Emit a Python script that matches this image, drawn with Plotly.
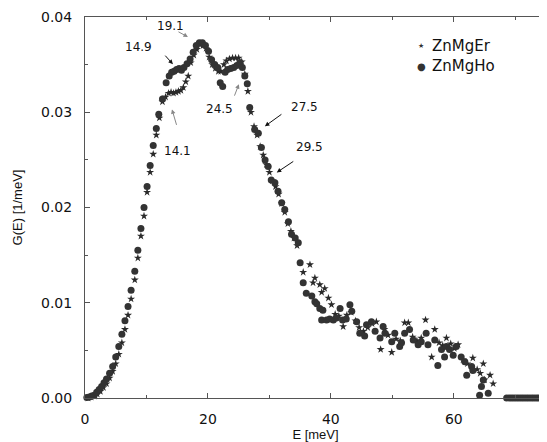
import plotly.graph_objects as go

# ---- data ----
E_ho = [0.3, 0.7, 1.1, 1.5, 1.9, 2.3, 2.7, 3.1, 3.5, 4.0, 4.5, 5.0, 5.5, 6.0, 6.5, 7.0, 7.5, 8.1, 8.6, 9.1,
        9.6, 10.1, 10.6, 11.1, 11.6, 12.0, 12.6, 13.2, 13.7, 14.1, 14.5, 14.9, 15.3, 15.7, 16.1, 16.6, 17.1,
        17.6, 18.1, 18.6, 19.1, 19.6, 20.1, 20.6, 21.1, 21.6, 22.0, 22.4, 22.8, 23.2, 23.7, 24.2, 24.7, 25.2,
        25.6, 26.0, 26.4, 26.8, 27.6, 28.2, 28.7, 29.3, 29.8, 30.3, 30.9, 31.4, 32.0, 32.5, 33.1, 33.6, 34.2,
        34.7, 35.0, 35.5, 36.0, 36.9, 37.4, 37.7, 38.2, 38.5, 38.7, 39.3, 39.8, 40.4, 40.9, 41.5, 41.9, 42.5,
        43.1, 43.4, 44.2, 44.7, 45.5, 45.8, 46.6, 47.2, 48.0, 48.5, 48.8, 49.9, 50.4, 51.2, 51.5, 52.0, 52.8,
        53.4, 54.2, 54.7, 55.5, 55.8, 56.9, 57.4, 58.0, 58.5, 58.8, 59.3, 59.9, 60.4, 61.2, 61.8, 62.1, 62.9,
        63.1, 64.2, 64.5, 64.8, 65.6,
        68.6, 69.0, 69.4, 69.8, 70.2, 70.6, 71.0, 71.4, 71.8, 72.2, 72.6, 73.0, 73.4, 73.8, 74.2, 74.6, 75.0]
G_ho = [0.00005, 0.0001, 0.0002, 0.0003, 0.0006, 0.0009, 0.0012, 0.0016, 0.0020, 0.0026, 0.0033, 0.0043,
        0.0054, 0.0067, 0.0081, 0.0096, 0.0113, 0.0133, 0.0155, 0.0178, 0.0200, 0.0222, 0.0244, 0.0265,
        0.0283, 0.0298, 0.0314, 0.0331, 0.0338, 0.0342, 0.0343, 0.0345, 0.0346, 0.0344, 0.0347, 0.0351,
        0.0356, 0.0363, 0.0370, 0.0373, 0.0373, 0.0370, 0.0364, 0.0355, 0.0350, 0.0347, 0.0331, 0.0327,
        0.0342, 0.0345, 0.0346, 0.0347, 0.0349, 0.0352, 0.0347, 0.0338, 0.0330, 0.0305, 0.0282, 0.0278,
        0.0263, 0.0250, 0.0243, 0.0229, 0.0226, 0.0217, 0.0205, 0.0198, 0.0185, 0.0172, 0.0168, 0.0163,
        0.0142, 0.0121, 0.0110, 0.0107, 0.0101, 0.0099, 0.0094, 0.0082, 0.0092, 0.0082, 0.0083, 0.0082,
        0.0084, 0.0094, 0.0082, 0.0083, 0.0098, 0.0091, 0.0080, 0.0068, 0.0065, 0.0077, 0.0080, 0.0070,
        0.0063, 0.0075, 0.0068, 0.0059, 0.0068, 0.0054, 0.0058, 0.0068, 0.0072, 0.0061, 0.0056, 0.0059,
        0.0068, 0.0056, 0.0061, 0.0034, 0.0051, 0.0043, 0.0054, 0.0051, 0.0045, 0.0054, 0.0043, 0.0038,
        0.0024, 0.0033, 0.0029, 0.0003, 0.0012, 0.0019, 0.0005,
        0, 0, 0, 0, 0, 0, 0, 0, 0, 0, 0, 0, 0, 0, 0, 0, 0]

E_er = [0.5, 1.0, 1.5, 2.0, 2.5, 3.0, 3.5, 4.0, 4.5, 5.0, 5.5, 6.0, 6.5, 7.0, 7.5, 8.1, 8.6, 9.1, 9.6, 10.1,
        10.6, 11.1, 11.6, 12.1, 12.6, 13.1, 13.6, 14.0, 14.4, 14.8, 15.2, 15.6, 16.0, 16.4, 16.8, 17.2, 17.7,
        18.2, 18.7, 19.2, 19.7, 20.2, 20.7, 21.2, 21.7, 22.1, 22.6, 23.0, 23.5, 24.0, 24.5, 25.0, 25.5, 26.0,
        26.5, 27.0, 27.5, 28.0, 28.5, 29.0, 29.5, 30.0, 30.5, 31.0, 31.5, 32.0, 32.5, 33.0, 33.5, 34.0, 34.5,
        35.5, 36.6, 37.1, 37.4, 38.2, 38.5, 39.0, 39.6, 40.1, 40.7, 41.3, 42.0, 42.6, 43.3, 44.0, 44.6, 45.3,
        46.0, 46.7, 47.4, 48.1, 48.7, 49.3, 49.9, 50.6, 51.3, 52.0, 52.6, 53.3, 54.0, 54.7, 55.4, 56.4, 56.9,
        57.6, 58.2, 58.8, 59.5, 60.1, 60.7, 61.5, 62.2, 63.1, 63.8, 64.3, 64.8, 65.0, 65.9, 66.4]
G_er = [0.0000, 0.0001, 0.0002, 0.0004, 0.0007, 0.0011, 0.0015, 0.0021, 0.0028, 0.0036, 0.0046, 0.0058,
        0.0072, 0.0087, 0.0104, 0.0124, 0.0147, 0.0170, 0.0191, 0.0216, 0.0237, 0.0256, 0.0276, 0.0294,
        0.0311, 0.0316, 0.0320, 0.0321, 0.0320, 0.0321, 0.0322, 0.0323, 0.0326, 0.0332, 0.0338, 0.0352,
        0.0360, 0.0366, 0.0371, 0.0370, 0.0367, 0.0358, 0.0350, 0.0346, 0.0343, 0.0343, 0.0350, 0.0354,
        0.0356, 0.0357, 0.0357, 0.0357, 0.0353, 0.0340, 0.0322, 0.0300, 0.0285, 0.0276, 0.0264, 0.0255,
        0.0245, 0.0237, 0.0228, 0.0222, 0.0214, 0.0204, 0.0195, 0.0183, 0.0175, 0.0168, 0.0160, 0.0132,
        0.0140, 0.0121, 0.0126, 0.0119, 0.0111, 0.0115, 0.0105, 0.0098, 0.0088, 0.0086, 0.0075, 0.0087,
        0.0090, 0.0081, 0.0074, 0.0070, 0.0074, 0.0078, 0.0080, 0.0051, 0.0072, 0.0066, 0.0048, 0.0062,
        0.0060, 0.0079, 0.0079, 0.0064, 0.0060, 0.0063, 0.0082, 0.0043, 0.0072, 0.0058, 0.0055, 0.0063,
        0.0057, 0.0052, 0.0056, 0.0040, 0.0036, 0.0042, 0.0030, 0.0026, 0.0036, 0.0019, 0.0024, 0.0015]

series_names = ["ZnMgEr", "ZnMgHo"]
series_symbols = ["★", "●"]

# annotation labels: arrow head (E, G), tail offset in px, colour, label position (E, G)
ann_text = ["19.1", "14.9", "14.1", "24.5", "27.5", "29.5"]
ann_head_E = [16.75, 14.3, 14.15, 25.04, 29.27, 31.2]
ann_head_G = [0.0379, 0.03505, 0.0303, 0.03295, 0.02853, 0.02368]
ann_tail_dx = [-11, -9, 5, -5, 18, 18]
ann_tail_dy = [-6, -10, 17, 13, -13, -12]
ann_color = ["#888888", "#111111", "#888888", "#888888", "#111111", "#111111"]
ann_label_E = [13.98, 8.78, 15.12, 21.95, 35.77, 36.59]
ann_label_G = [0.03905, 0.03684, 0.0259, 0.03032, 0.03053, 0.02632]

x_ticks = [0, 20, 40, 60]
y_ticks = [0.00, 0.01, 0.02, 0.03, 0.04]

fig = go.Figure()
fig.add_trace(go.Scatter(x=E_er, y=G_er, mode="markers", name=series_names[0], showlegend=False,
                         marker=dict(symbol="star", size=6, color="#2a2a2a"), cliponaxis=False))
fig.add_trace(go.Scatter(x=E_ho, y=G_ho, mode="markers", name=series_names[1], showlegend=False,
                         marker=dict(symbol="circle", size=7, color="#333333"), cliponaxis=False))

annotations = []
for i in range(len(ann_text)):
    annotations.append(dict(x=ann_head_E[i], y=ann_head_G[i], xref="x", yref="y", text="",
                            showarrow=True, arrowhead=2, arrowsize=0.9, arrowwidth=1,
                            arrowcolor=ann_color[i], ax=ann_tail_dx[i], ay=ann_tail_dy[i]))
    annotations.append(dict(x=ann_label_E[i], y=ann_label_G[i], xref="x", yref="y", text=ann_text[i],
                            showarrow=False, font=dict(family="DejaVu Sans", size=12, color="#111111")))

# legend (drawn as text)
leg_y = [0.924, 0.871]
leg_sym_size = [7, 10]
for i in range(2):
    annotations.append(dict(x=0.729, y=leg_y[i], xref="paper", yref="paper", text=series_symbols[i],
                            showarrow=False, xanchor="center", yanchor="middle",
                            font=dict(family="DejaVu Sans", size=leg_sym_size[i], color="#333333")))
    annotations.append(dict(x=0.748, y=leg_y[i], xref="paper", yref="paper", text=series_names[i],
                            showarrow=False, xanchor="left", yanchor="middle",
                            font=dict(family="DejaVu Sans", size=15, color="#111111")))

axis_common = dict(showline=True, linecolor="#555555", linewidth=1, mirror="allticks",
                   ticks="inside", ticklen=5, tickcolor="#555555", showgrid=False, zeroline=False,
                   automargin=False,
                   tickfont=dict(family="DejaVu Sans", size=14, color="#111111"))

fig.update_layout(
    width=539, height=434,
    margin=dict(l=77, r=1, t=9, b=44),
    paper_bgcolor="white", plot_bgcolor="white",
    showlegend=False,
    xaxis=dict(range=[0, 75], tickvals=x_ticks, ticklabelstandoff=8,
               minor=dict(dtick=10, ticks="inside", ticklen=3, tickcolor="#555555"),
               title=dict(text="E [meV]", standoff=0,
                          font=dict(family="Liberation Sans", size=13, color="#111111")),
               **axis_common),
    yaxis=dict(range=[0, 0.04], tickvals=y_ticks, tickformat=".2f", ticklabelstandoff=9,
               minor=dict(dtick=0.005, ticks="inside", ticklen=3, tickcolor="#555555"),
               title=dict(text="G(E) [1/meV]", standoff=15,
                          font=dict(family="Liberation Sans", size=13, color="#111111")),
               **axis_common),
    annotations=annotations,
)

fig.write_html("out.html")
